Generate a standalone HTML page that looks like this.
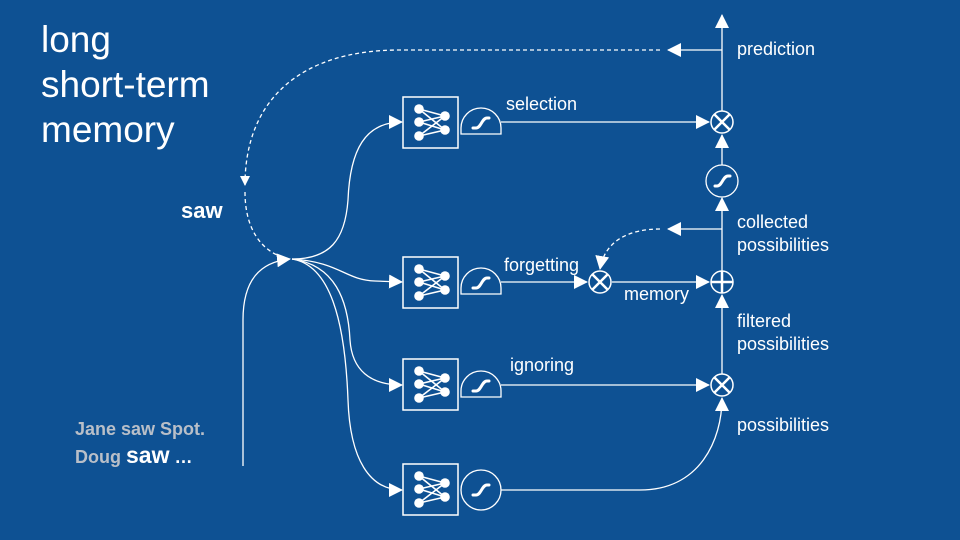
<!DOCTYPE html>
<html><head><meta charset="utf-8"><style>
html,body{margin:0;padding:0;background:#0e5193;}
svg{display:block;font-family:"Liberation Sans",Arial,sans-serif;}
</style></head><body>
<svg width="960" height="540" viewBox="0 0 960 540" xmlns="http://www.w3.org/2000/svg">
<defs>
<marker id="ah" markerWidth="10" markerHeight="10" refX="9" refY="5" orient="auto" markerUnits="userSpaceOnUse" viewBox="0 0 10 10">
<path d="M0,0 L10,5 L0,10 z" fill="#fff"/></marker>
<marker id="ahb" markerWidth="14" markerHeight="14" refX="13" refY="7" orient="auto" markerUnits="userSpaceOnUse" viewBox="0 0 14 14">
<path d="M0,0 L14,7 L0,14 z" fill="#fff"/></marker>
<g id="net">
<rect x="0" y="0" width="55" height="51" fill="none" stroke="#fff" stroke-width="1.5"/>
<g stroke="#fff" stroke-width="1.6">
<line x1="16" y1="12" x2="42" y2="19"/><line x1="16" y1="12" x2="42" y2="33"/>
<line x1="16" y1="25" x2="42" y2="19"/><line x1="16" y1="25" x2="42" y2="33"/>
<line x1="16" y1="39" x2="42" y2="19"/><line x1="16" y1="39" x2="42" y2="33"/>
</g>
<g fill="#fff"><circle cx="16" cy="12" r="4.8"/><circle cx="16" cy="25" r="4.8"/><circle cx="16" cy="39" r="4.8"/><circle cx="42" cy="19" r="4.8"/><circle cx="42" cy="33" r="4.8"/></g>
</g>
<g id="gate">
<path d="M-20,12 L-20,6 A20,20 0 0 1 20,6 L20,12 Z" fill="none" stroke="#fff" stroke-width="1.3"/>
<path d="M-8,6 L-5,6 C0,6 1,-4 6,-4 L8,-4" fill="none" stroke="#fff" stroke-width="3" stroke-linecap="round"/>
</g>
<g id="mul"><circle r="11" fill="none" stroke="#fff" stroke-width="1.5"/><path d="M-7.5,-7.5 L7.5,7.5 M-7.5,7.5 L7.5,-7.5" stroke="#fff" stroke-width="2.5"/></g>
</defs>

<g fill="#fff" font-size="37">
<text x="41" y="52">long</text><text x="41" y="97">short-term</text><text x="41" y="142">memory</text>
</g>
<text x="181" y="218" fill="#fff" font-size="22" font-weight="bold">saw</text>
<text x="75" y="435" fill="#b9bfc8" font-size="18" font-weight="bold">Jane saw Spot.</text>
<text x="75" y="463" fill="#b9bfc8" font-size="18" font-weight="bold">Doug <tspan fill="#fff" font-size="23">saw</tspan><tspan fill="#fff"> …</tspan></text>

<use href="#net" x="403" y="97"/><use href="#net" x="403" y="257"/><use href="#net" x="403" y="359"/><use href="#net" x="403" y="464"/>
<use href="#gate" x="481" y="122"/><use href="#gate" x="481" y="282"/><use href="#gate" x="481" y="385"/>
<circle cx="481" cy="490" r="20" fill="none" stroke="#fff" stroke-width="1.3"/>
<path d="M473,495 L476,495 C481,495 482,485 487,485 L489,485" fill="none" stroke="#fff" stroke-width="3" stroke-linecap="round"/>

<g fill="none" stroke="#fff" stroke-width="1.3">
<path d="M243,466 L243,320 C243,280 260,262 290,259" marker-end="url(#ahb)"/>
<path d="M660,50 L400,50 C300,50 245,100 245,185" stroke-dasharray="4,3" marker-end="url(#ah)"/>
<path d="M245,192 C245,230 262,250 282,257" stroke-dasharray="4,3"/>
<path d="M292,259 C330,259 345,240 348,200 C350,150 365,122 402,122" marker-end="url(#ahb)"/>
<path d="M292,259 C340,262 345,280 375,281 L402,282" marker-end="url(#ahb)"/>
<path d="M292,259 C335,265 348,300 350,340 C352,370 370,385 402,385" marker-end="url(#ahb)"/>
<path d="M292,259 C330,265 345,320 348,400 C350,460 370,490 402,490" marker-end="url(#ahb)"/>
<path d="M501,122 L709,122" marker-end="url(#ahb)"/>
<path d="M501,282 L587,282" marker-end="url(#ahb)"/>
<path d="M612,282 L709,282" marker-end="url(#ahb)"/>
<path d="M501,385 L709,385" marker-end="url(#ahb)"/>
<path d="M501,490 L640,490 C700,490 722,440 722,398" marker-end="url(#ahb)"/>
<path d="M722,374 L722,295" marker-end="url(#ahb)"/>
<path d="M722,271 L722,198" marker-end="url(#ahb)"/>
<path d="M722,165 L722,135" marker-end="url(#ahb)"/>
<path d="M722,111 L722,15" marker-end="url(#ahb)"/>
<path d="M722,50 L668,50" marker-end="url(#ahb)"/>
<path d="M722,229 L668,229" marker-end="url(#ahb)"/>
<path d="M660,229 C630,229 605,240 600,269" stroke-dasharray="4,3" marker-end="url(#ahb)"/>
</g>

<use href="#mul" x="722" y="122"/>
<use href="#mul" x="722" y="385"/>
<use href="#mul" x="600" y="282"/>
<circle cx="722" cy="282" r="11" fill="none" stroke="#fff" stroke-width="1.5"/>
<path d="M711,282 L733,282 M722,271 L722,293" stroke="#fff" stroke-width="2.5"/>
<circle cx="722" cy="181" r="16" fill="none" stroke="#fff" stroke-width="1.3"/>
<path d="M715,186 L717,186 C722,186 723,176 728,176 L730,176" fill="none" stroke="#fff" stroke-width="3" stroke-linecap="round"/>

<g fill="#fff" font-size="18">
<text x="506" y="110">selection</text>
<text x="504" y="271">forgetting</text>
<text x="624" y="300">memory</text>
<text x="510" y="371">ignoring</text>
<text x="737" y="55">prediction</text>
<text x="737" y="228">collected</text><text x="737" y="251">possibilities</text>
<text x="737" y="327">filtered</text><text x="737" y="350">possibilities</text>
<text x="737" y="431">possibilities</text>
</g>
</svg>
</body></html>
